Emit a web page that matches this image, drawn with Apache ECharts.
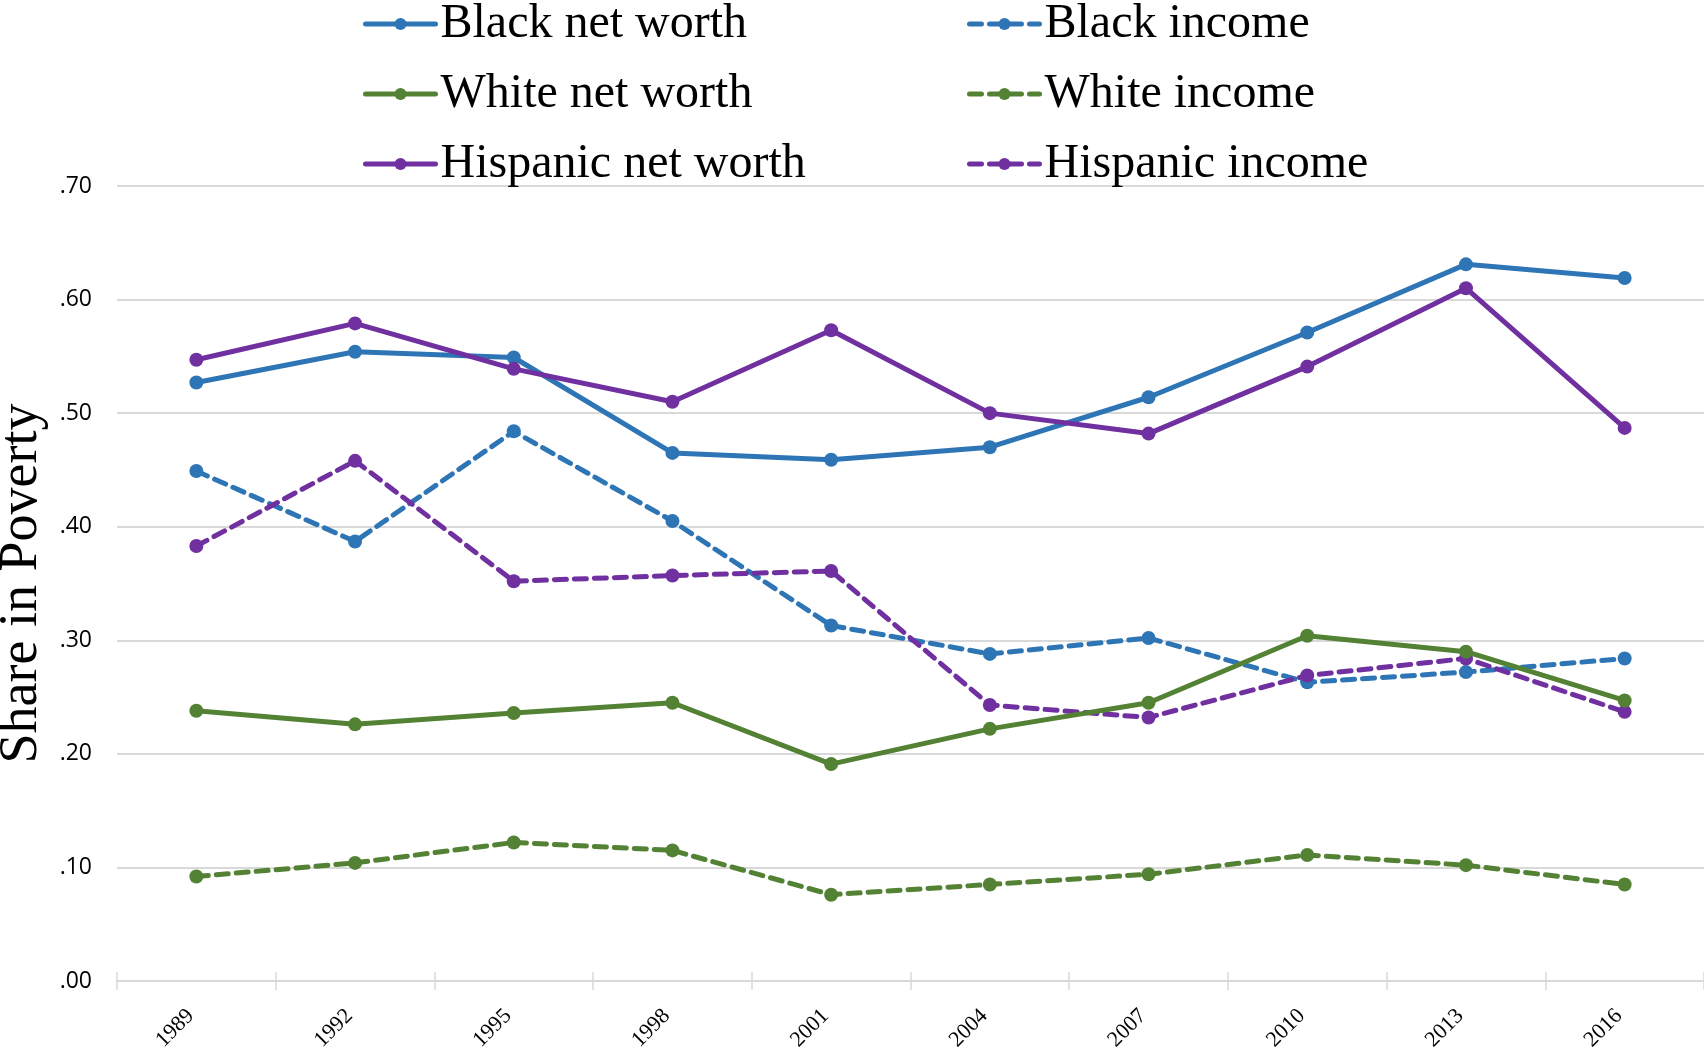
<!DOCTYPE html>
<html>
<head>
<meta charset="utf-8">
<title>Share in Poverty</title>
<script src="https://cdn.jsdelivr.net/npm/echarts@6/dist/echarts.min.js"></script>
<style>
  html, body { margin: 0; padding: 0; background: #fff; }
  #chart { width: 1704px; height: 1052px; }
</style>
</head>
<body>
<div id="chart"></div>
<script>
// Survey years
const years = ['1989', '1992', '1995', '1998', '2001', '2004', '2007', '2010', '2013', '2016'];

// Share of households in poverty, by net worth and by income
const blackNetWorth    = [0.527, 0.554, 0.549, 0.465, 0.459, 0.470, 0.514, 0.571, 0.631, 0.619];
const whiteNetWorth    = [0.238, 0.226, 0.236, 0.245, 0.191, 0.222, 0.245, 0.304, 0.290, 0.247];
const hispanicNetWorth = [0.547, 0.579, 0.539, 0.510, 0.573, 0.500, 0.482, 0.541, 0.610, 0.487];
const blackIncome      = [0.449, 0.387, 0.484, 0.405, 0.313, 0.288, 0.302, 0.263, 0.272, 0.284];
const whiteIncome      = [0.092, 0.104, 0.122, 0.115, 0.076, 0.085, 0.094, 0.111, 0.102, 0.085];
const hispanicIncome   = [0.383, 0.458, 0.352, 0.357, 0.361, 0.243, 0.232, 0.269, 0.284, 0.237];

// Y axis tick labels (0.00 .. 0.70)
const yTickLabels = ['.00', '.10', '.20', '.30', '.40', '.50', '.60', '.70'];

const BLUE = '#2E75B6';
const GREEN = '#548235';
const PURPLE = '#7030A0';
const SERIF = 'Liberation Serif';
const GRID_GREY = '#d9d9d9';

function makeSeries(name, data, color, dashed) {
  return {
    name: name,
    type: 'line',
    data: data,
    symbol: 'circle',
    symbolSize: 14,
    showSymbol: true,
    itemStyle: { color: color },
    lineStyle: {
      color: color,
      width: 5,
      type: dashed ? [12, 8] : 'solid',
      cap: 'round'
    },
    emphasis: { disabled: true },
    animation: false,
    z: dashed ? 2 : 3
  };
}

function makeLegend(left, names) {
  return {
    orient: 'vertical',
    left: left,
    top: -6,
    itemWidth: 70,
    itemHeight: 15,
    itemGap: 20,
    lineStyle: { width: 5, cap: 'round' },
    textStyle: {
      fontFamily: SERIF,
      fontSize: 48,
      color: '#000',
      lineHeight: 50
    },
    selectedMode: false,
    data: names
  };
}

const chart = echarts.init(document.getElementById('chart'), null, { renderer: 'canvas' });

chart.setOption({
  backgroundColor: '#fff',
  animation: false,
  legend: [
    makeLegend(358, ['Black net worth', 'White net worth', 'Hispanic net worth']),
    makeLegend(962, ['Black income', 'White income', 'Hispanic income'])
  ],
  grid: {
    left: 117,
    right: 0,
    top: 186,
    bottom: 71,
    containLabel: false,
    outerBoundsMode: 'none'
  },
  xAxis: [
    {
      type: 'category',
      data: years,
      boundaryGap: true,
      axisLine: { show: true, lineStyle: { color: GRID_GREY, width: 2 } },
      axisTick: { show: true, length: 9, lineStyle: { color: GRID_GREY, width: 1.5 } },
      axisLabel: {
        rotate: 45,
        margin: 26,
        formatter: function (v) { return '{yr|' + v + '}'; },
        rich: {
          yr: {
            fontFamily: SERIF,
            fontSize: 22,
            color: '#000',
            padding: [0, 8, 0, 0]
          }
        }
      }
    },
    {
      // same category axis again, only to draw tick marks above the axis line
      type: 'category',
      data: years,
      position: 'bottom',
      boundaryGap: true,
      axisLine: { show: false },
      axisTick: { show: true, inside: true, length: 9, lineStyle: { color: GRID_GREY, width: 1.5 } },
      axisLabel: { show: false },
      splitLine: { show: false }
    }
  ],
  yAxis: {
    type: 'value',
    min: 0,
    max: 0.7,
    interval: 0.1,
    name: 'Share in Poverty',
    nameLocation: 'middle',
    nameGap: 57,
    nameTextStyle: {
      fontFamily: SERIF,
      fontSize: 54,
      color: '#000'
    },
    axisLine: { show: false },
    axisTick: { show: false },
    axisLabel: {
      margin: 25,
      fontFamily: 'Open Sans',
      fontSize: 23,
      color: '#000',
      formatter: function (v) { return yTickLabels[Math.round(v * 10)]; }
    },
    splitLine: { show: true, lineStyle: { color: GRID_GREY, width: 2 } }
  },
  series: [
    makeSeries('Black net worth', blackNetWorth, BLUE, false),
    makeSeries('Black income', blackIncome, BLUE, true),
    makeSeries('White net worth', whiteNetWorth, GREEN, false),
    makeSeries('White income', whiteIncome, GREEN, true),
    makeSeries('Hispanic net worth', hispanicNetWorth, PURPLE, false),
    makeSeries('Hispanic income', hispanicIncome, PURPLE, true)
  ]
});
</script>
</body>
</html>
